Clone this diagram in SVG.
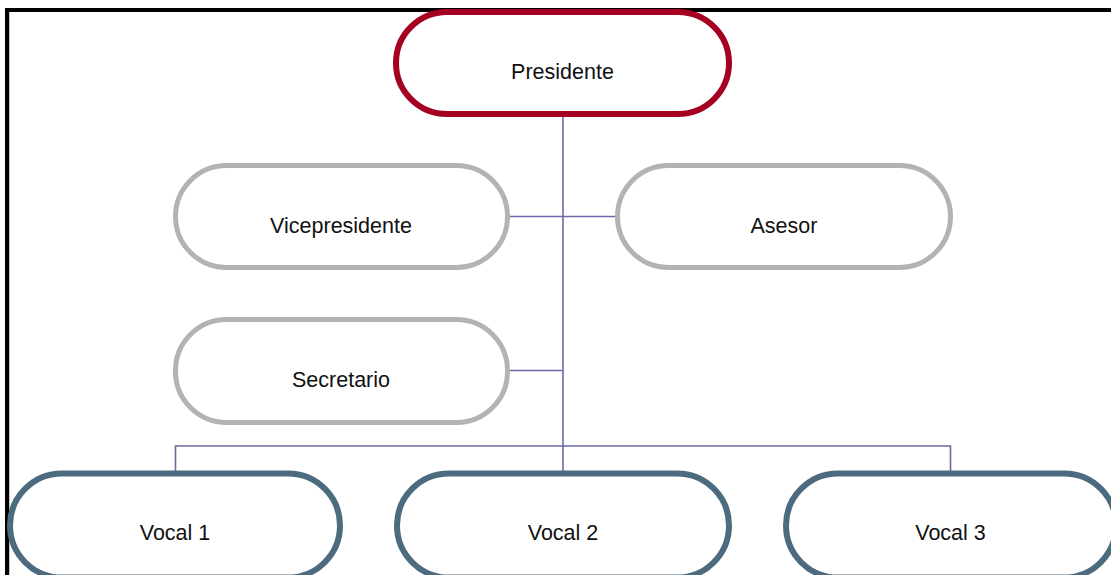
<svg xmlns="http://www.w3.org/2000/svg" width="1111" height="575" viewBox="0 0 1111 575">
<style>
  .node { fill: #ffffff; }
  .pres { stroke: #A50021; stroke-width: 6; }
  .gray { stroke: #B3B3B3; stroke-width: 5; }
  .vocal { stroke: #4D6B7F; stroke-width: 6; }
  .lbl { font-family: "Liberation Sans", Arial, sans-serif; font-size: 21.5px; fill: #111111; text-anchor: middle; }
  .conn { fill: none; stroke: #6A6AA8; stroke-width: 1.6; }
</style>
<rect x="0" y="0" width="1111" height="575" fill="#ffffff"/>
<path d="M7,575 V10 H1111" fill="none" stroke="#000000" stroke-width="4"/>
<line x1="9.5" y1="12" x2="9.5" y2="575" stroke="#C8C8C8" stroke-width="1"/>
<g id="connectors">
  <line class="conn" x1="563" y1="115" x2="563" y2="472"/>
  <line class="conn" x1="509" y1="216.5" x2="617" y2="216.5"/>
  <line class="conn" x1="509" y1="370.5" x2="563" y2="370.5"/>
  <polyline class="conn" points="175.5,472 175.5,446 950.5,446 950.5,472"/>
</g>
<g id="presidente">
  <rect class="node pres" x="396" y="12" width="333" height="102" rx="51" ry="51"/>
  <text class="lbl" x="562.5" y="79">Presidente</text>
</g>
<g id="vicepresidente">
  <rect class="node gray" x="175.5" y="165.5" width="332" height="102" rx="51" ry="51"/>
  <text class="lbl" x="341" y="233">Vicepresidente</text>
</g>
<g id="asesor">
  <rect class="node gray" x="617.5" y="165.5" width="333" height="102" rx="51" ry="51"/>
  <text class="lbl" x="784" y="233">Asesor</text>
</g>
<g id="secretario">
  <rect class="node gray" x="175.5" y="319.5" width="332" height="103" rx="51" ry="51"/>
  <text class="lbl" x="341" y="387">Secretario</text>
</g>
<g id="vocal1">
  <rect class="node vocal" x="10" y="473.5" width="330" height="104" rx="52" ry="52"/>
  <text class="lbl" x="175" y="540">Vocal 1</text>
</g>
<g id="vocal2">
  <rect class="node vocal" x="397" y="473.5" width="332" height="104" rx="52" ry="52"/>
  <text class="lbl" x="563" y="540">Vocal 2</text>
</g>
<g id="vocal3">
  <rect class="node vocal" x="786" y="473.5" width="330" height="104" rx="52" ry="52"/>
  <text class="lbl" x="950.5" y="540">Vocal 3</text>
</g>
</svg>
